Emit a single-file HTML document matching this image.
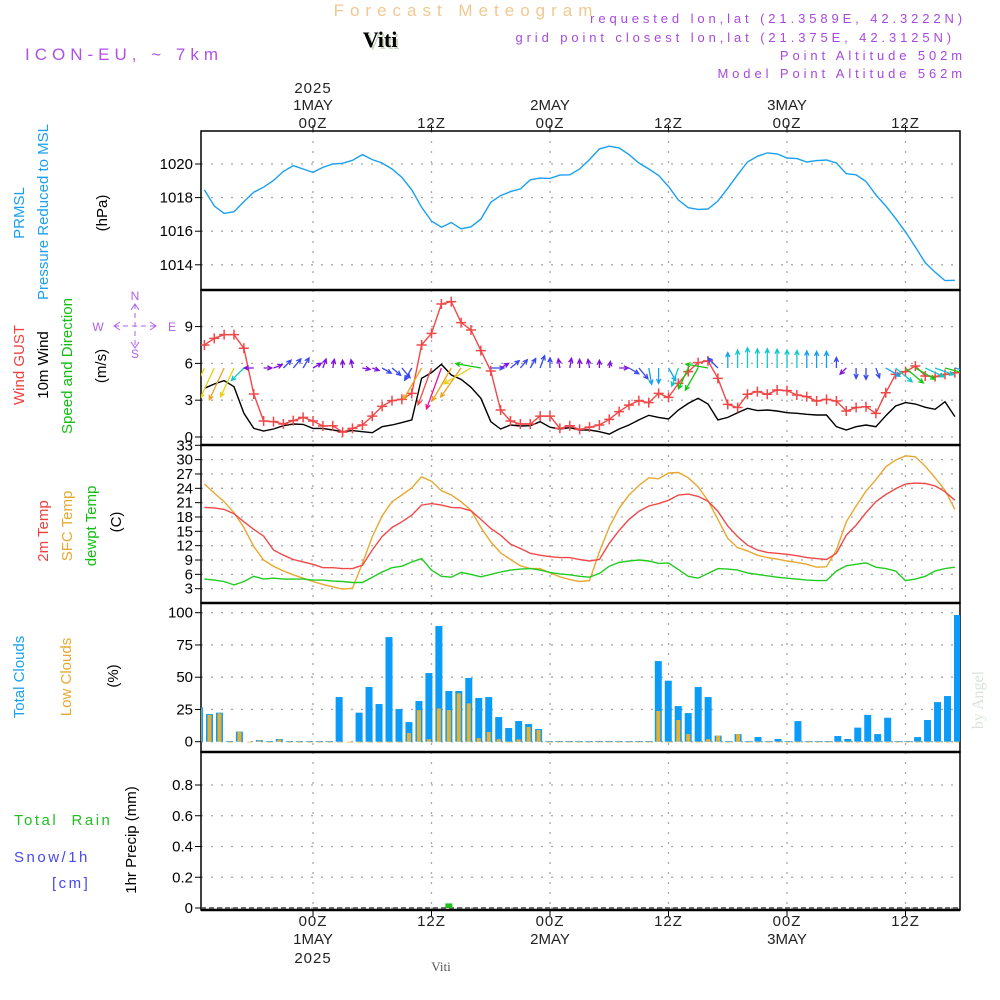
<!DOCTYPE html>
<html><head><meta charset="utf-8"><style>
html,body{margin:0;padding:0;background:#fff;}
svg{display:block;font-family:"Liberation Sans",sans-serif;}
</style></head><body>
<svg id="chart" width="1000" height="1000" viewBox="0 0 1000 1000" xmlns="http://www.w3.org/2000/svg">
<g>
<text x="466" y="16" text-anchor="middle" font-size="17" letter-spacing="6" fill="#f0c890">Forecast Meteogram</text>
<text x="382" y="49" text-anchor="middle" font-size="22" font-weight="bold" font-family="Liberation Serif, serif" fill="#c8d8c0">Viti</text>
<text x="380" y="47" text-anchor="middle" font-size="22" font-weight="bold" font-family="Liberation Serif, serif" fill="#000">Viti</text>
<text x="25" y="60" font-size="17" letter-spacing="5" fill="#b050e8">ICON-EU, ~ 7km</text>
<g font-size="13" letter-spacing="3.9" fill="#a848e0" text-anchor="end">
<text x="966" y="23">requested lon,lat (21.3589E, 42.3222N)</text>
<text x="955" y="42">grid point closest lon,lat (21.375E, 42.3125N)</text>
<text x="966" y="60">Point Altitude 502m</text>
<text x="966" y="78">Model Point Altitude 562m</text>
</g>
</g>
<g id="axes"></g>
<g id="marks"></g>
<g font-size="15">
<text transform="translate(24,213) rotate(-90)" text-anchor="middle" fill="#1aa0f0">PRMSL</text>
<text transform="translate(48,212) rotate(-90)" text-anchor="middle" fill="#1aa0f0">Pressure Reduced to MSL</text>
<text transform="translate(107,213) rotate(-90)" text-anchor="middle" fill="#000">(hPa)</text>
<text transform="translate(24,365) rotate(-90)" text-anchor="middle" fill="#f04040">Wind GUST</text>
<text transform="translate(48,365) rotate(-90)" text-anchor="middle" fill="#000">10m Wind</text>
<text transform="translate(72,366) rotate(-90)" text-anchor="middle" fill="#10c010">Speed and Direction</text>
<text transform="translate(106,366) rotate(-90)" text-anchor="middle" fill="#000">(m/s)</text>
<text transform="translate(48,531) rotate(-90)" text-anchor="middle" fill="#f04040">2m Temp</text>
<text transform="translate(72,526) rotate(-90)" text-anchor="middle" fill="#e8a830">SFC Temp</text>
<text transform="translate(96,526) rotate(-90)" text-anchor="middle" fill="#10c010">dewpt Temp</text>
<text transform="translate(121,522) rotate(-90)" text-anchor="middle" fill="#000">(C)</text>
<text transform="translate(24,677) rotate(-90)" text-anchor="middle" fill="#1aa0f0">Total Clouds</text>
<text transform="translate(71,677) rotate(-90)" text-anchor="middle" fill="#e8a830">Low Clouds</text>
<text transform="translate(118,676) rotate(-90)" text-anchor="middle" fill="#000">(%)</text>
<text x="14" y="825" fill="#20c020" letter-spacing="2.5" xml:space="preserve">Total  Rain</text>
<text x="14" y="862" fill="#4848f0" letter-spacing="2.5">Snow/1h</text>
<text x="52" y="888" fill="#4848f0" letter-spacing="2.5">[cm]</text>
<text transform="translate(136,840) rotate(-90)" text-anchor="middle" fill="#000">1hr Precip (mm)</text>
</g>
<g fill="#b060e8" stroke="none" font-size="12">
<text x="135" y="300" text-anchor="middle">N</text>
<text x="135" y="358" text-anchor="middle">S</text>
<text x="98" y="331" text-anchor="middle">W</text>
<text x="172" y="331" text-anchor="middle">E</text>
<line x1="114" y1="326" x2="156" y2="326" stroke="#b060e8" stroke-width="1" stroke-dasharray="5,4"/>
<path d="M120,322 L114,326 L120,330 M150,322 L156,326 L150,330 M131,310 L135,304 L139,310 M131,342 L135,348 L139,342" fill="none" stroke="#b060e8" stroke-width="1"/>
<line x1="135" y1="304" x2="135" y2="348" stroke="#b060e8" stroke-width="1" stroke-dasharray="5,4"/>
</g>
<text transform="translate(983,700) rotate(-90)" text-anchor="middle" font-size="16" font-family="Liberation Serif, serif" fill="#d8e4d8">by Angel</text>
<text x="441" y="971" text-anchor="middle" font-size="13" font-family="Liberation Serif, serif" fill="#555">Viti</text>
</svg>
<script>
// ---- data (hourly, h = -11 .. 65 relative to 00Z 1 MAY) ----
const pressure = [1018.46,1017.5,1017.06,1017.16,1017.76,1018.32,1018.62,1019.02,1019.56,1019.9,1019.7,1019.5,1019.8,1020,1020.04,1020.22,1020.56,1020.26,1020.06,1019.7,1019.2,1018.46,1017.42,1016.6,1016.24,1016.52,1016.14,1016.26,1016.72,1017.72,1018.12,1018.36,1018.52,1019.06,1019.16,1019.14,1019.34,1019.36,1019.7,1020.26,1020.9,1021.06,1020.96,1020.56,1020.06,1019.7,1019.32,1018.66,1017.86,1017.4,1017.3,1017.32,1017.8,1018.56,1019.36,1020.12,1020.46,1020.66,1020.6,1020.36,1020.32,1020.12,1020.2,1020.24,1020.06,1019.42,1019.36,1018.96,1018.16,1017.5,1016.76,1015.96,1015.06,1014.12,1013.56,1013.06,1013.08];
const gust = [7.5,8.04,8.34,8.34,7.23,3.5,1.3,1.25,1.06,1.33,1.6,1.3,0.9,0.92,0.4,0.7,0.98,1.7,2.5,2.96,3.07,3.56,7.5,8.45,10.84,11.03,9.32,8.72,7.04,5.38,2.2,1.3,1.06,1.06,1.7,1.7,0.7,0.92,0.62,0.8,0.98,1.44,2.07,2.6,2.96,2.8,3.56,3.23,4.37,5.33,6.06,6.2,4.78,2.66,2.4,3.48,3.7,3.48,3.83,3.78,3.42,3.29,2.93,3.07,2.93,2.12,2.4,2.47,1.93,3.61,5.1,5.33,5.79,4.97,4.92,5.1,5.24];
const wind = [3.97,4.32,4.6,4.1,1.93,0.7,0.49,0.65,0.92,1.06,1.03,0.7,0.7,0.57,0.43,0.52,0.43,0.35,0.84,0.98,1.17,1.39,4.78,5.24,5.92,5.05,4.7,4.05,3.15,1.25,0.65,0.98,0.9,0.92,1.25,0.8,0.65,0.76,0.57,0.57,0.43,0.24,0.65,0.98,1.39,1.77,1.6,1.47,2.2,2.74,3.15,2.69,1.39,1.6,1.98,2.34,2.15,2.2,2.12,1.98,1.93,1.85,1.79,1.79,0.84,0.57,0.84,0.98,0.84,1.74,2.53,2.8,2.69,2.42,2.26,2.88,1.66];
const windDir = [205,205,205,205,225,270,90,70,45,40,30,60,20,10,0,350,100,110,120,130,140,210,210,200,200,210,215,240,280,90,60,50,40,30,20,0,350,10,0,350,0,10,90,120,140,170,180,150,200,205,210,280,315,0,0,0,0,0,0,0,0,0,0,0,0,225,180,180,160,120,130,130,120,115,110,105,105];
const t2m = [20.0,19.9,19.6,18.7,17.0,15.4,14.0,11.1,10.0,9.1,8.6,8.1,7.4,7.4,7.2,7.2,7.9,11.1,13.9,15.8,17.0,18.4,20.5,20.8,20.5,20.0,19.9,19.3,17.5,15.6,14.2,12.3,11.4,10.4,10.0,9.7,9.5,9.5,9.1,8.8,9.1,12.5,15.2,17.5,19.2,20.3,20.8,21.5,22.6,22.8,22.3,21.3,19.2,16.1,13.9,12.1,11.1,10.6,10.4,10.2,9.9,9.5,9.3,9.1,10.4,14.2,16.3,18.9,21.2,22.7,23.9,24.9,25.1,25.0,24.5,23.3,21.5];
const tsfc = [24.9,23.0,21.2,18.9,15.8,11.8,9.0,7.7,6.7,5.9,5.2,4.5,3.9,3.4,2.9,3.1,8.3,13.9,18.2,21.2,22.6,24.1,26.4,25.5,23.5,22.6,21.2,19.4,15.8,12.8,10.5,9.1,7.8,7.2,7.2,6.3,5.5,4.9,4.5,4.7,10.7,15.9,19.8,22.6,24.6,26.2,26.0,27.2,27.3,26.2,24.3,21.4,17.5,13.5,11.6,10.9,10.0,9.5,9.2,8.8,8.5,8.1,7.5,7.6,11.1,17.0,20.3,23.4,25.8,28.5,29.9,30.8,30.6,28.6,26.2,23.6,19.6];
const dewpt = [5.0,4.8,4.5,3.8,4.5,5.6,5.0,5.2,5.0,5.0,5.0,4.8,4.8,4.6,4.5,4.3,4.3,5.4,6.5,7.4,7.7,8.6,9.3,6.9,5.6,5.4,6.4,6.0,5.5,6.0,6.5,6.9,7.1,7.2,6.9,6.4,6.1,5.9,5.6,5.4,6.2,7.7,8.5,8.8,9.0,8.8,8.3,8.4,7.0,5.6,5.2,6.2,7.2,7.1,6.9,6.3,6.0,5.7,5.4,5.2,5.0,4.8,4.7,4.7,6.7,7.8,8.1,8.4,7.5,7.2,6.7,4.7,5.0,5.6,6.7,7.2,7.5];
const totalClouds = [26.6,21.4,22.5,0.5,7.8,0,1.3,0.5,2.1,0.5,0.5,0.5,0.5,0.5,34.6,0,22.5,42.4,29.2,81.1,25.3,15.2,31.5,53.2,89.7,39.3,39.3,49.4,33.9,34.6,19.1,10.6,16.0,13.7,9.8,0.5,0.5,0.5,0.5,0.5,0.5,0.5,0.5,0.5,0.5,0.5,62.5,47.3,27.6,22.2,42.4,34.6,4.7,0.5,5.9,0.5,3.6,0.5,2.1,0.5,16.0,0.5,0.5,0.5,4.4,2.1,10.9,20.7,5.9,18.6,0.5,0.5,3.6,16.8,30.7,35.4,98.2];
const lowClouds = [26,20.7,22,0,7.5,0,1,0,1.8,0,0,0,0,0,0,0,0,0,0,0,0,6.7,24.5,2,25.8,24.5,37.5,29.7,2.8,7.5,2,0,1.8,11.4,9,0,0,0,0,0,0,0,0,0,0,0,23.8,0,16.8,5.9,0,2,4.7,0,5.9,0,0,0,0,0,0,0,0,0,0,0,0,0,0,0,0,0,0,0,0,0,0];
const precip = [0,0,0,0,0,0,0,0,0,0,0,0,0,0,0,0,0,0,0,0,0,0,0,0,0,0.03,0,0,0,0,0,0,0,0,0,0,0,0,0,0,0,0,0,0,0,0,0,0,0,0,0,0,0,0,0,0,0,0,0,0,0,0,0,0,0,0,0,0,0,0,0,0,0,0,0,0,0];
const pTicks = [1014,1016,1018,1020];
const wTicks = [0,3,6,9];
const tTicks = [3,6,9,12,15,18,21,24,27,30,33];
const cTicks = [0,25,50,75,100];
const rTicks = [0,0.2,0.4,0.6,0.8];
const timeTicks = [0,12,24,36,48,60];
const timeLabels = ["00Z","12Z","00Z","12Z","00Z","12Z"];
const dayLabels = ["1MAY","","2MAY","","3MAY",""];
const startHour = -11;

// ---- axis functions ----
const L = 201, R = 960;
const xh = h => 313 + h * 9.875;
const xi = i => xh(i + startHour);
const xb = i => 199.5 + i * (758 / 76);
const yP = v => 164 + (1020 - v) * 16.8;
const yW = v => 437 - v * 12.27;
const yT = v => 588.7 - (v - 3) * 4.78;
const yC = v => 741.7 - v * 1.29;
const yR = v => 908 - v * 153.75;
const panels = [[131,290],[290,445],[445,603],[603,752],[752,910]];

const NS = "http://www.w3.org/2000/svg";
const axes = document.getElementById('axes');
const marks = document.getElementById('marks');
function mk(tag, attrs, parent) {
  const e = document.createElementNS(NS, tag);
  for (const k in attrs) e.setAttribute(k, attrs[k]);
  (parent || marks).appendChild(e);
  return e;
}
function txt(s, x, y, attrs, parent) {
  const e = mk('text', Object.assign({x: x, y: y}, attrs), parent);
  e.textContent = s;
  return e;
}

function hgrid(ticks, yf, fmt, name) {
  ticks.forEach(t => {
    const y = yf(t);
    const g = mk('line', {x1: L, x2: R, y1: y, y2: y, stroke: '#a8a8a8', 'stroke-width': 1.3, 'stroke-dasharray': '2,8'}, axes);
    
    
    mk('line', {x1: L - 6, x2: L, y1: y, y2: y, stroke: '#000', 'stroke-width': 1}, axes);
    const lb = txt(fmt(t), L - 8, y + 5, {'text-anchor': 'end', 'font-size': 15, fill: '#000'}, axes);
    
    
  });
}
hgrid(pTicks, yP, String, 'pressure');
hgrid(wTicks, yW, String, 'wind');
hgrid(tTicks, yT, String, 'temp');
hgrid(cTicks, yC, String, 'cloud');
hgrid(rTicks, yR, v => v === 0 ? '0' : v.toFixed(1), 'precip');
timeTicks.forEach((h, k) => {
  const x = xh(h);
  panels.forEach(p => {
    const v = mk('line', {x1: x, x2: x, y1: p[0], y2: p[1], stroke: '#a8a8a8', 'stroke-width': 1.3, 'stroke-dasharray': '2,8'}, axes);
    
    
  });
  mk('line', {x1: x, x2: x, y1: 125, y2: 131, stroke: '#000'}, axes);
  mk('line', {x1: x, x2: x, y1: 910, y2: 916, stroke: '#000'}, axes);
  const t1 = txt(timeLabels[k], x, 128, {'text-anchor': 'middle', 'font-size': 15, fill: '#222', 'letter-spacing': 1}, axes);
  
  
  const t2 = txt(timeLabels[k], x, 926, {'text-anchor': 'middle', 'font-size': 15, fill: '#222', 'letter-spacing': 1}, axes);
  
  
  if (dayLabels[k]) {
    const d1 = txt(dayLabels[k], x, 110, {'text-anchor': 'middle', 'font-size': 15, fill: '#222'}, axes);
    
    
    const d2 = txt(dayLabels[k], x, 944, {'text-anchor': 'middle', 'font-size': 15, fill: '#222'}, axes);
    
    
  }
  if (k === 0) {
    const y1 = txt('2025', x, 93, {'text-anchor': 'middle', 'font-size': 15, fill: '#222', 'letter-spacing': 1}, axes);
    
    
    const y2 = txt('2025', x, 963, {'text-anchor': 'middle', 'font-size': 15, fill: '#222', 'letter-spacing': 1}, axes);
    
    
  }
});
panels.forEach((p, k) => {
  const r = mk('rect', {x: L, y: p[0], width: R - L, height: p[1] - p[0], fill: 'none', stroke: '#000', 'stroke-width': 1.5}, axes);
  
  
});
[290, 445, 603, 752, 910].forEach(y => mk('line', {x1: L, x2: R, y1: y, y2: y, stroke: '#000', 'stroke-width': 2.5}, axes));

const defs = mk('defs', {});
const cp = mk('clipPath', {id: 'plotclip'}, defs);
mk('rect', {x: L, y: 131, width: R - L, height: 779}, cp);
const plot = mk('g', {'clip-path': 'url(#plotclip)'});



function line(arr, yf, color, name, w) {
  const pts = arr.map((v, i) => xi(i).toFixed(1) + ',' + yf(v).toFixed(1)).join(' ');
  const p = mk('polyline', {points: pts, fill: 'none', stroke: color, 'stroke-width': w || 1.4}, plot);
  
  
}
line(pressure, yP, '#1aa0f0', 'pressure-line');
line(wind, yW, '#000', 'wind-speed-line');
line(gust, yW, '#f04848', 'wind-gust-line');
gust.forEach((v, i) => {
  const x = xi(i), y = yW(v);
  const m = mk('path', {d: `M${x-5},${y}H${x+5}M${x},${y-5}V${y+5}`, stroke: '#f04848', 'stroke-width': 1.5}, plot);
  
  
});
function spdColor(s) {
  if (s < 0.8) return '#8010e0';
  if (s < 1.4) return '#3848f0';
  if (s < 1.9) return '#10a0f0';
  if (s < 2.6) return '#10c8c8';
  if (s < 3.2) return '#10c810';
  if (s < 4.5) return '#e8d010';
  if (s < 5.1) return '#f0a020';
  if (s < 5.5) return '#f04848';
  return '#f01090';
}
wind.forEach((s, i) => {
  const d = windDir[i] * Math.PI / 180;
  const len = 5 + s * 6.5;
  const x0 = xi(i), y0 = 368;
  const x1 = x0 + len * Math.sin(d), y1 = y0 - len * Math.cos(d);
  const a1 = d + Math.PI - 0.45, a2 = d + Math.PI + 0.45;
  const hl = 5;
  const path = `M${x0.toFixed(1)},${y0}L${x1.toFixed(1)},${y1.toFixed(1)}M${(x1+hl*Math.sin(a1)).toFixed(1)},${(y1-hl*Math.cos(a1)).toFixed(1)}L${x1.toFixed(1)},${y1.toFixed(1)}L${(x1+hl*Math.sin(a2)).toFixed(1)},${(y1-hl*Math.cos(a2)).toFixed(1)}`;
  const a = mk('path', {d: path, fill: 'none', stroke: spdColor(s), 'stroke-width': 1.3}, plot);
  
  
});
line(tsfc, yT, '#e8a830', 'sfc-temp-line');
line(t2m, yT, '#f04848', 't2m-line');
line(dewpt, yT, '#20cc20', 'dewpt-line');
totalClouds.forEach((v, i) => {
  const x = xb(i);
  const b = mk('rect', {x: x - 3.5, y: yC(v), width: 7, height: yC(0) - yC(v), fill: '#0a9cf8'}, plot);
  
  
});
lowClouds.forEach((v, i) => {
  const x = xb(i);
  const b = mk('rect', {x: x - 2, y: yC(v), width: 4, height: Math.max(0.8, yC(0) - yC(v)), fill: '#e8b030'}, plot);
  
  
});
const base = mk('line', {x1: L, x2: R, y1: yR(0), y2: yR(0), stroke: '#444', 'stroke-width': 1.5, 'stroke-dasharray': '5,3'}, plot);


precip.forEach((v, i) => {
  if (v <= 0) return;
  const x = xb(i);
  const b = mk('rect', {x: x - 3.5, y: yR(v), width: 7, height: yR(0) - yR(v), fill: '#20c020'}, plot);
  
  
});
</script>
</body></html>
